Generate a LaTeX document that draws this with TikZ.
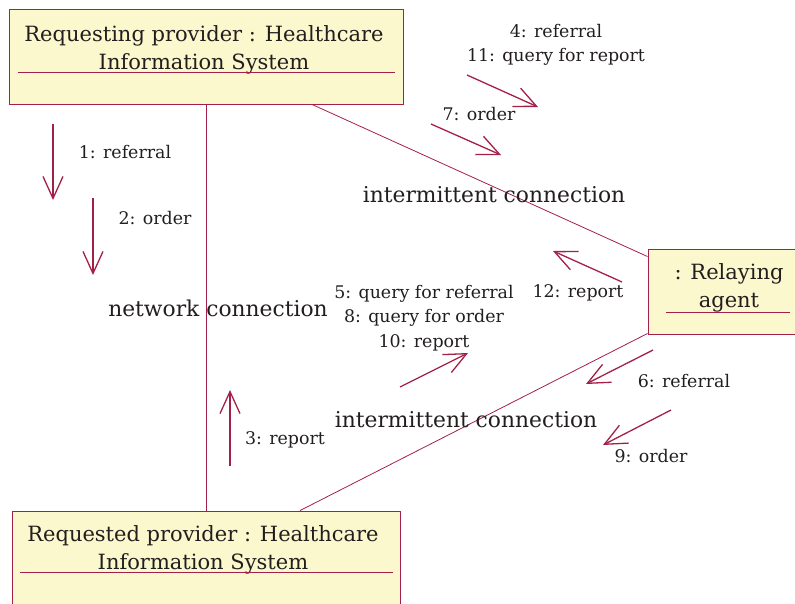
\documentclass[tikz,border=0pt]{standalone}
\usepackage{fontspec}
\setmainfont{DejaVu Serif}
\usetikzlibrary{positioning,calc,arrows.meta}
\definecolor{umlred}{RGB}{163,32,72}
\definecolor{umlfill}{RGB}{251,248,206}
\definecolor{umltext}{RGB}{34,30,30}

\begin{document}
\begin{tikzpicture}[x=1pt, y=-1pt,
    objbox/.style={draw=umlred, fill=umlfill, line width=0.9pt, inner sep=0pt},
    objlabel/.style={align=center, text=umltext, inner sep=0pt, font=\fontsize{21}{28}\selectfont},
    linklabel/.style={text=umltext, inner sep=0pt, font=\fontsize{21.8}{26}\selectfont},
    msglabel/.style={align=center, text=umltext, inner sep=0pt, font=\fontsize{17.4}{24.5}\selectfont},
    link/.style={draw=umlred, line width=0.8pt},
    msg/.style={draw=umlred, line width=1.3pt, -{Straight Barb[length=22pt,width=20pt]}}]
    \useasboundingbox (0,0) rectangle (795,603);

    \node[objbox, minimum width=394pt, minimum height=95pt] (req) at (206,56.5) {};
    \node[objbox, minimum width=149pt, minimum height=85pt] (relay) at (722.5,291.5) {};
    \node[objbox, minimum width=388pt, minimum height=99pt] (reqd) at (206,560.5) {};

    \node[objlabel] (reqtext) at (204,50) {Requesting provider : Healthcare\\Information System};
    \node[objlabel] (relaytext) at (729,288) {: Relaying\\agent};
    \node[objlabel] (reqdtext) at (203,550) {Requested provider : Healthcare\\Information System};

    \draw[umlred, line width=0.8pt] (18,72) -- (395,72);
    \draw[umlred, line width=0.8pt] (666,312) -- (790,312);
    \draw[umlred, line width=0.8pt] (20,572) -- (393,572);

    \draw[link] (req.south) -- (reqd.north);
    \draw[link] ($(req.south)+(106,0)$) -- ($(relay.north west)+(0,8)$);
    \draw[link] ($(relay.south west)+(0,-1)$) -- ($(reqd.north)+(94,0)$);

    \node[linklabel] (netlabel) at (218,308) {network connection};
    \node[linklabel] (upperlabel) at (494,195) {intermittent connection};
    \node[linklabel] (lowerlabel) at (466,420) {intermittent connection};

    \coordinate (m1a) at (53,124);   \coordinate (m1b) at (53,200);
    \coordinate (m2a) at (93,198);   \coordinate (m2b) at (93,275);
    \coordinate (m3a) at (230,466);  \coordinate (m3b) at (230,390);
    \coordinate (m4a) at (467,75);   \coordinate (m4b) at (538,107);
    \coordinate (m7a) at (431,124);  \coordinate (m7b) at (501,155);
    \coordinate (m12a) at (622,282); \coordinate (m12b) at (553,251);
    \coordinate (m5a) at (400,387);  \coordinate (m5b) at (468,353);
    \coordinate (m6a) at (653,350);  \coordinate (m6b) at (586,384);
    \coordinate (m9a) at (671,410);  \coordinate (m9b) at (603,445);

    \foreach \s in {m1,m2,m3,m4,m7,m12,m5,m6,m9}
        \draw[msg] (\s a) -- (\s b);

    \node[msglabel] (l1) at (125,152) {1: referral};
    \node[msglabel] (l2) at (155,218) {2: order};
    \node[msglabel] (l3) at (285,440) {3: report};
    \node[msglabel] (l4) at (556,45) {4: referral\\11: query for report};
    \node[msglabel] (l7) at (479,114) {7: order};
    \node[msglabel] (l12) at (578,293) {12: report};
    \node[msglabel] (l5) at (424,318) {5: query for referral\\8: query for order\\10: report};
    \node[msglabel] (l6) at (684,381) {6: referral};
    \node[msglabel] (l9) at (651,456) {9: order};
\end{tikzpicture}
\end{document}
